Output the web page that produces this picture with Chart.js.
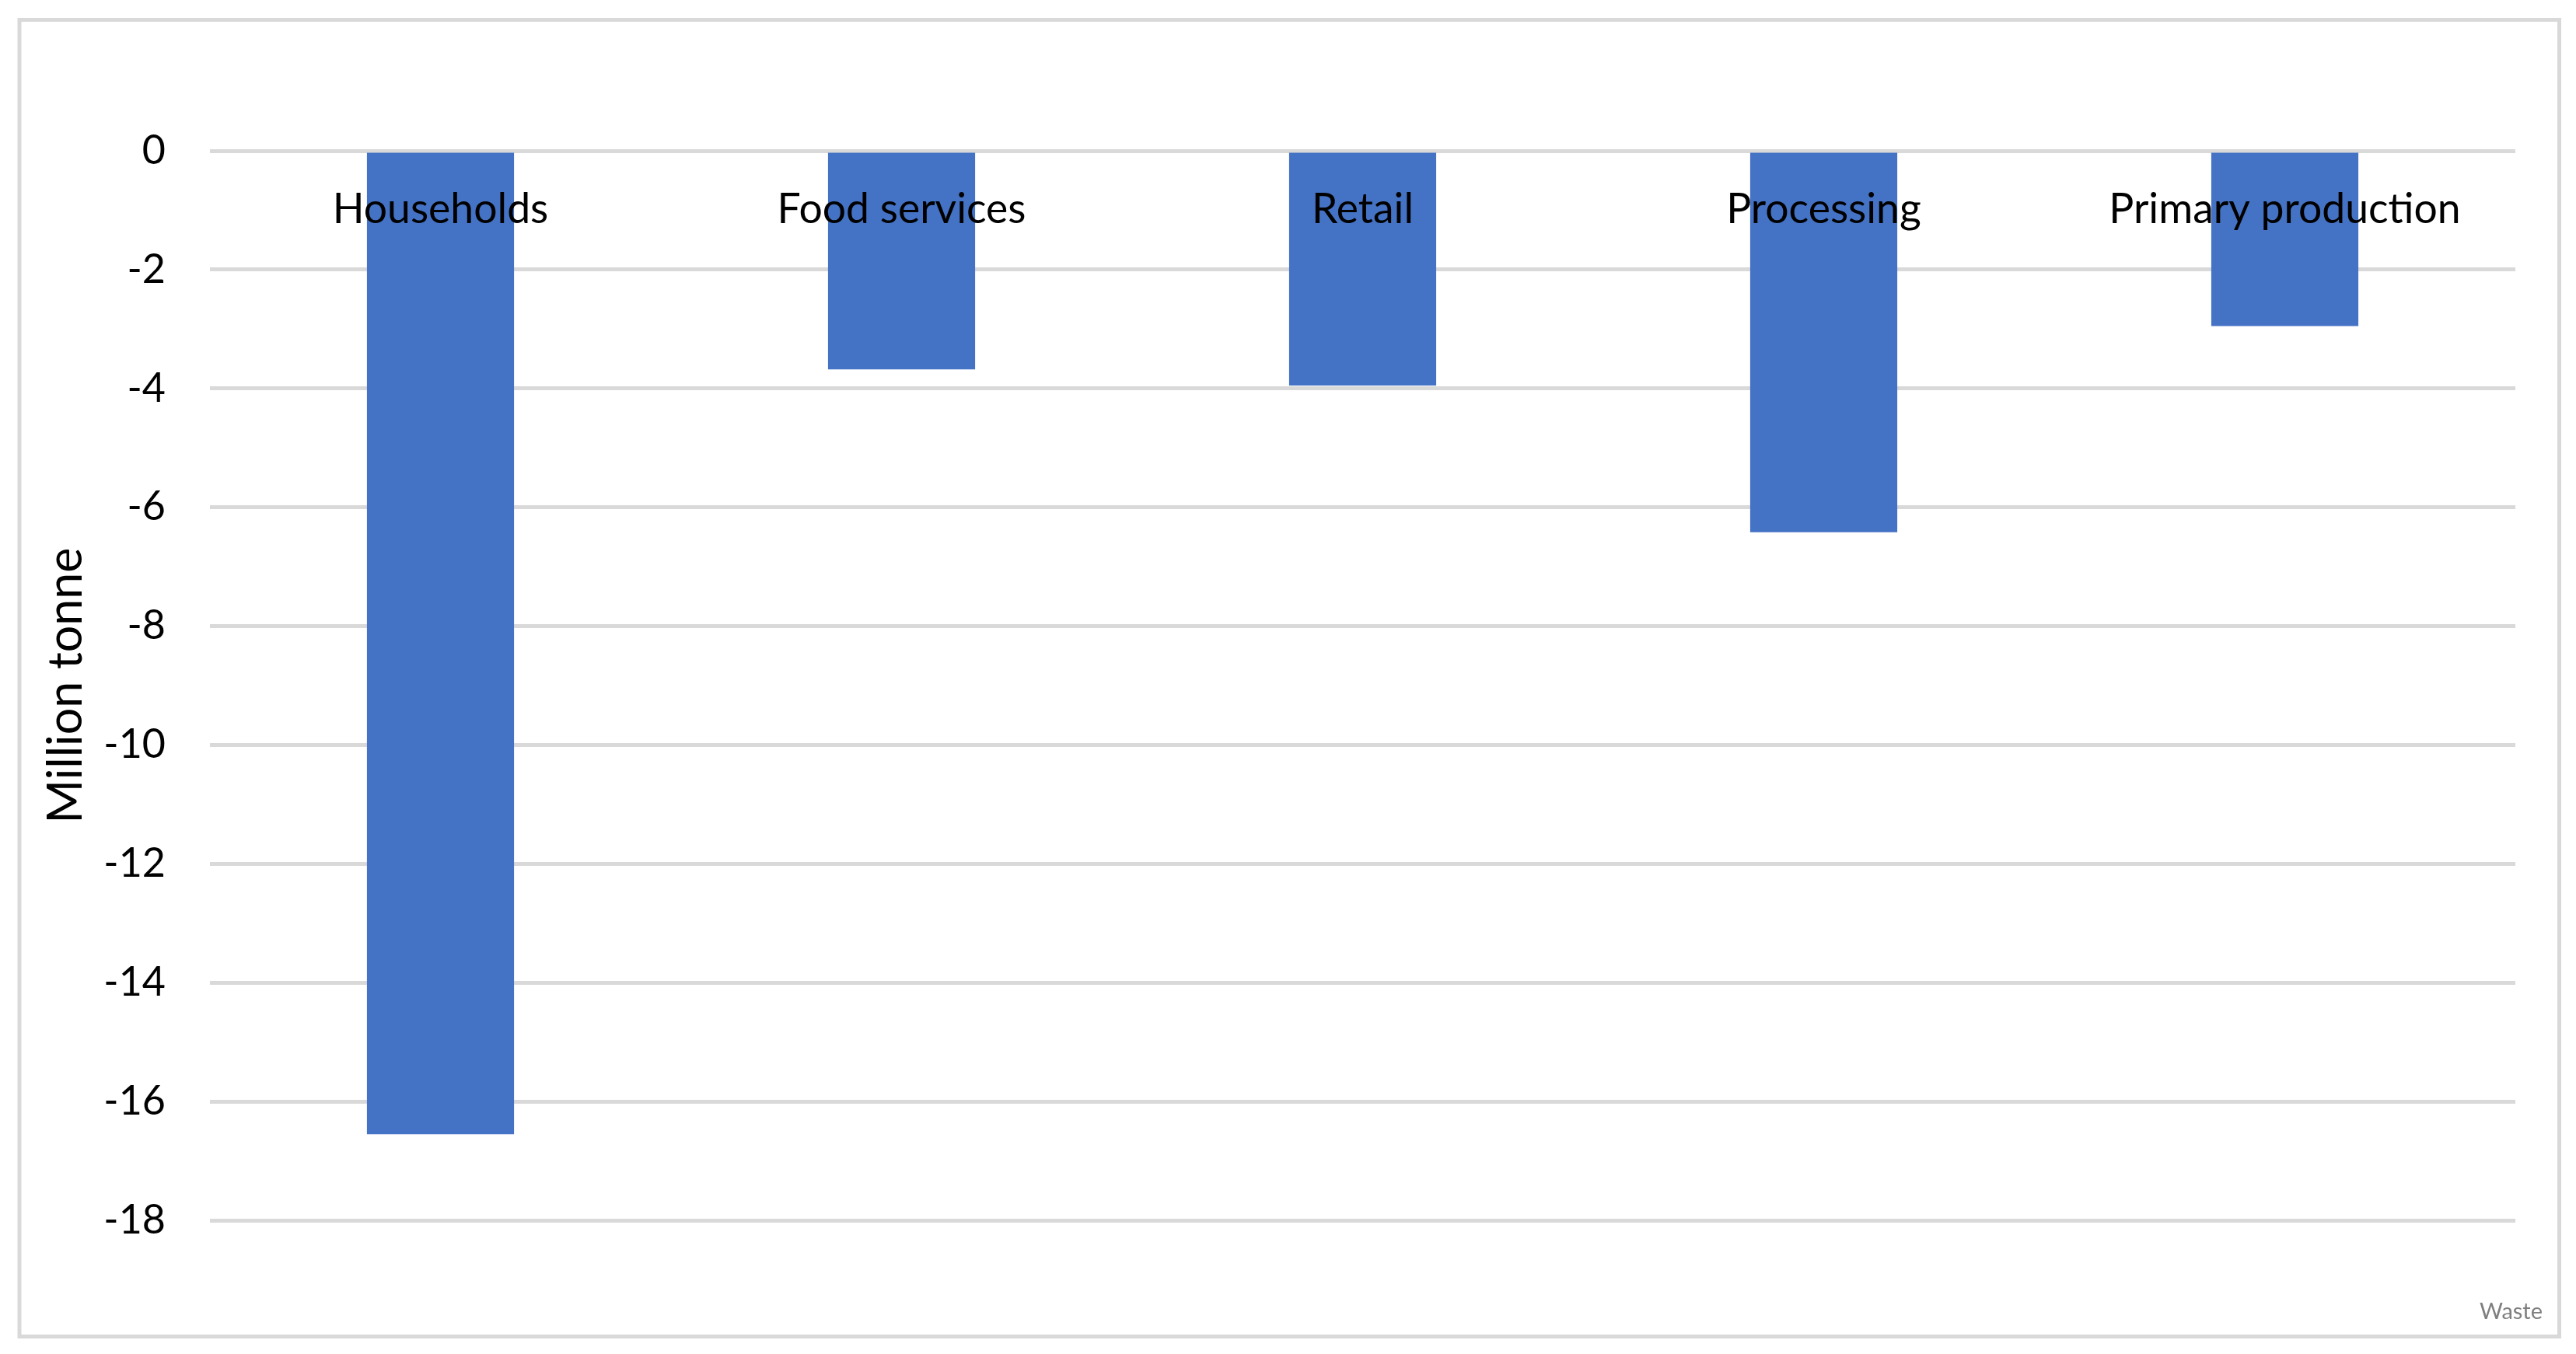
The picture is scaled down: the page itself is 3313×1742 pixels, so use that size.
<!DOCTYPE html>
<html>
<head>
<meta charset="utf-8">
<script src="https://cdn.jsdelivr.net/npm/chart.js@4/dist/chart.umd.min.js"></script>
<style>
  body { margin: 0; background: #fff; }
  canvas { display: block; }
</style>
</head>
<body>
<canvas id="wasteChart" width="3313" height="1742"></canvas>
<script>
const categories = ["Households", "Food services", "Retail", "Processing", "Primary production"];
const wasteValues = [-16.55, -3.68, -3.95, -6.42, -2.95];
const yTicks = [0, -2, -4, -6, -8, -10, -12, -14, -16, -18];
const axisTitle = "Million tonne";
const cornerLabel = "Waste";

const FONT = "Lato, 'Open Sans', sans-serif";

// outer frame and the small corner label
const framePlugin = {
    id: "frame",
    afterDraw(chart) {
        const ctx = chart.ctx;
        ctx.save();
        ctx.strokeStyle = "#d9d9d9";
        ctx.lineWidth = 5;
        ctx.strokeRect(25, 25.5, 3266.5, 1694);
        ctx.fillStyle = "#7f7f7f";
        ctx.font = "29px " + FONT;
        ctx.textAlign = "right";
        ctx.textBaseline = "alphabetic";
        ctx.fillText(cornerLabel, 3270, 1697);
        ctx.restore();
    }
};

new Chart(document.getElementById("wasteChart"), {
    type: "bar",
    data: {
        labels: categories,
        datasets: [{
            label: cornerLabel,
            data: wasteValues,
            backgroundColor: "#4472c4",
            borderWidth: 0,
            categoryPercentage: 1,
            barPercentage: 0.319
        }]
    },
    options: {
        responsive: false,
        animation: false,
        layout: {
            padding: { left: 23, right: 78, top: 194, bottom: 172 }
        },
        plugins: {
            legend: { display: false },
            tooltip: { enabled: false }
        },
        scales: {
            x: {
                position: { y: 0 },
                grid: { display: false },
                border: { display: false },
                ticks: {
                    z: 1,
                    color: "#000",
                    padding: 36,
                    maxRotation: 0,
                    autoSkip: false,
                    font: { family: FONT, size: 53.5 }
                },
                afterFit(scale) {
                    scale.paddingLeft = 0;
                    scale.paddingRight = 0;
                }
            },
            y: {
                min: Math.min(...yTicks),
                max: Math.max(...yTicks),
                afterBuildTicks(scale) {
                    scale.ticks = yTicks.map(v => ({ value: v }));
                },
                grid: {
                    color: "#d9d9d9",
                    lineWidth: 5,
                    drawTicks: false
                },
                border: { display: false },
                ticks: {
                    color: "#000",
                    padding: 57,
                    font: { family: FONT, size: 52 }
                },
                title: {
                    display: true,
                    text: axisTitle,
                    color: "#000",
                    padding: { top: 26, bottom: 0 },
                    font: { family: FONT, size: 61 }
                },
                afterFit(scale) {
                    scale.width = 247;
                    scale.paddingTop = 0;
                    scale.paddingBottom = 0;
                }
            }
        }
    },
    plugins: [framePlugin]
});
</script>
</body>
</html>
